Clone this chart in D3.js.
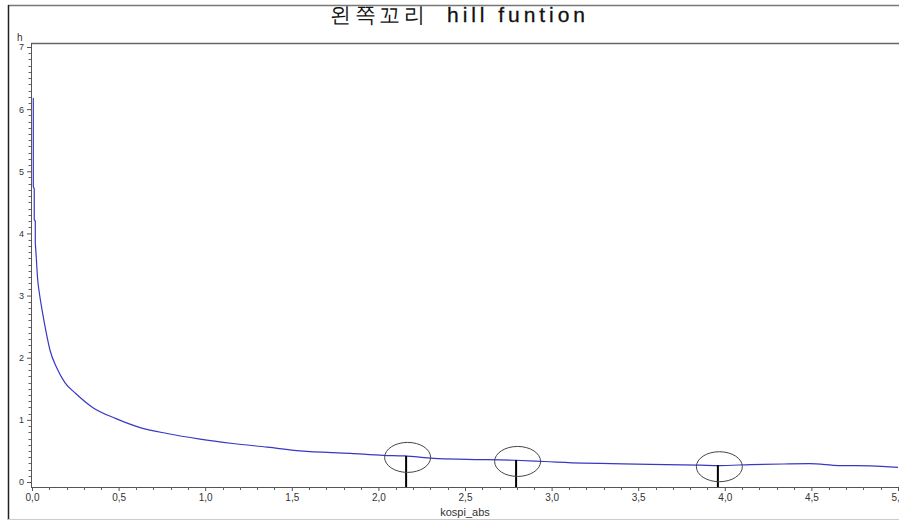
<!DOCTYPE html>
<html>
<head>
<meta charset="utf-8">
<script src="https://cdn.jsdelivr.net/npm/d3@7"></script>
<style>
  body { margin: 0; background: #fff; }
  svg { display: block; }
  text { font-family: "Liberation Sans", Arial, sans-serif; }
</style>
</head>
<body>
<svg id="chart" width="899" height="520"></svg>
<script>
// hill estimate curve (x = kospi_abs, y = h)
var hillX = [0.0075, 0.0075, 0.013, 0.013, 0.019, 0.019, 0.025, 0.033, 0.042, 0.058,
             0.081, 0.104, 0.144, 0.19, 0.254, 0.35, 0.485, 0.62, 0.78, 0.97, 1.16,
             1.36, 1.55, 1.84, 2.03, 2.15, 2.32, 2.51, 2.79, 2.96, 3.18,
             3.28, 3.57, 3.86, 3.97, 4.15, 4.34, 4.49, 4.66, 4.84, 5.0];
var hillY = [6.18, 4.75, 4.72, 4.22, 4.2, 3.85, 3.6, 3.25, 3.05, 2.77,
             2.42, 2.12, 1.83, 1.6, 1.42, 1.2, 1.02, 0.88, 0.78, 0.69, 0.62,
             0.56, 0.50, 0.46, 0.43, 0.42, 0.38, 0.365, 0.35, 0.33, 0.305,
             0.30, 0.285, 0.27, 0.265, 0.28, 0.29, 0.295, 0.265, 0.26, 0.235];

// marked points (vertical bars with circles)
var markX = [2.16, 2.795, 3.96];
var markY = [0.42, 0.355, 0.27];

var xTicks = [0, 0.5, 1, 1.5, 2, 2.5, 3, 3.5, 4, 4.5, 5];
var yTicks = [0, 1, 2, 3, 4, 5, 6, 7];

var titleKo = "왼쪽꼬리";
var titleEn = "hill funtion";
var xLabel = "kospi_abs";
var yLabel = "h";

var svg = d3.select("#chart");

var x = d3.scaleLinear().domain([0, 5]).range([32, 898]);
var y = d3.scaleLinear().domain([0, 7]).range([482, 47]);
var axisY = 487;   // x axis line sits a little under y = 0
var axisX = 31;

// outer frame lines
svg.append("line").attr("x1", 8).attr("x2", 899).attr("y1", 5.5).attr("y2", 5.5)
   .attr("stroke", "#777").attr("stroke-width", 1.5);
svg.append("line").attr("x1", 8.5).attr("x2", 8.5).attr("y1", 5).attr("y2", 520)
   .attr("stroke", "#222").attr("stroke-width", 1.5);
svg.append("line").attr("x1", 8).attr("x2", 899).attr("y1", 519.5).attr("y2", 519.5)
   .attr("stroke", "#ccc");

// title, two pieces so each keeps its own width
svg.append("text")
   .attr("x", 330).attr("y", 22)
   .attr("font-family", "'Noto Sans CJK KR', sans-serif")
   .attr("font-size", "21px")
   .attr("textLength", 95).attr("lengthAdjust", "spacing")
   .attr("fill", "#111")
   .text(titleKo);
svg.append("text")
   .attr("x", 447).attr("y", 22)
   .attr("font-size", "21px")
   .attr("textLength", 138).attr("lengthAdjust", "spacing")
   .attr("fill", "#111")
   .attr("stroke", "#111").attr("stroke-width", 0.3)
   .text(titleEn);

// plot frame top
svg.append("line").attr("x1", axisX).attr("x2", 899).attr("y1", 43.5).attr("y2", 43.5)
   .attr("stroke", "#666").attr("stroke-width", 1.5);

// y axis
var yAxis = d3.axisLeft(y).tickValues(yTicks).tickSize(4).tickPadding(3)
  .tickFormat(d3.format("d"));
var gy = svg.append("g").attr("transform", "translate(" + axisX + ",0)").call(yAxis);
gy.select(".domain").attr("d", "M0.5,43V" + axisY).attr("stroke", "#555");
gy.selectAll(".tick line").attr("stroke", "#555");
gy.selectAll(".tick text").attr("font-size", "9px").attr("fill", "#333");
svg.append("g").selectAll("line")
  .data(d3.range(1, 70).filter(function(d) { return d % 10 !== 0; }).map(function(d) { return d / 10; }))
  .join("line")
  .attr("x1", axisX - 2.5).attr("x2", axisX)
  .attr("y1", function(d) { return Math.round(y(d)) + 0.5; })
  .attr("y2", function(d) { return Math.round(y(d)) + 0.5; })
  .attr("stroke", "#666");

svg.append("text").attr("x", 17).attr("y", 41)
   .attr("font-size", "10px").attr("fill", "#333").text(yLabel);

// x axis
var xAxis = d3.axisBottom(x).tickValues(xTicks).tickSize(4).tickPadding(3)
  .tickFormat(function(d) { return d3.format(".1f")(d).replace(".", ","); });
var gx = svg.append("g").attr("transform", "translate(0," + axisY + ")").call(xAxis);
gx.select(".domain").attr("d", "M" + axisX + ",0.5H899").attr("stroke", "#555");
gx.selectAll(".tick line").attr("stroke", "#555");
gx.selectAll(".tick text").attr("font-size", "10px").attr("fill", "#333");
svg.append("g").selectAll("line")
  .data(d3.range(1, 50).filter(function(d) { return d % 5 !== 0; }).map(function(d) { return d / 10; }))
  .join("line")
  .attr("x1", function(d) { return Math.round(x(d)) + 0.5; })
  .attr("x2", function(d) { return Math.round(x(d)) + 0.5; })
  .attr("y1", axisY).attr("y2", axisY + 3)
  .attr("stroke", "#666");

svg.append("text").attr("x", 465).attr("y", 516)
   .attr("text-anchor", "middle").attr("font-size", "11px").attr("fill", "#333")
   .text(xLabel);

// curve: stepped head drawn straight, smooth tail
svg.append("clipPath").attr("id", "plotclip")
   .append("rect").attr("x", axisX + 1).attr("y", 44).attr("width", 899 - axisX).attr("height", axisY - 44);

var pts = hillX.map(function(d, i) { return [d, hillY[i]]; });
var headLine = d3.line()
  .x(function(d) { return x(d[0]); })
  .y(function(d) { return y(d[1]); });
var tailLine = d3.line()
  .curve(d3.curveMonotoneX)
  .x(function(d) { return x(d[0]); })
  .y(function(d) { return y(d[1]); });

var curve = svg.append("g").attr("clip-path", "url(#plotclip)");
curve.append("path")
   .datum(pts.slice(0, 7))
   .attr("d", headLine)
   .attr("fill", "none").attr("stroke", "#3838c4").attr("stroke-width", 1.2);
curve.append("path")
   .datum(pts.slice(6))
   .attr("d", tailLine)
   .attr("fill", "none").attr("stroke", "#3838c4").attr("stroke-width", 1.2);

// marker bars and circles
var marks = markX.map(function(d, i) { return { x: d, y: markY[i] }; });
var gm = svg.append("g");
gm.selectAll("line").data(marks).join("line")
  .attr("x1", function(d) { return x(d.x); })
  .attr("x2", function(d) { return x(d.x); })
  .attr("y1", function(d) { return y(d.y); })
  .attr("y2", axisY)
  .attr("stroke", "#000").attr("stroke-width", 2);
gm.selectAll("ellipse").data(marks).join("ellipse")
  .attr("cx", function(d) { return x(d.x) + 1.5; })
  .attr("cy", function(d) { return y(d.y) + 1.5; })
  .attr("rx", 23).attr("ry", 15)
  .attr("fill", "none").attr("stroke", "#444").attr("stroke-width", 1);
</script>
</body>
</html>
